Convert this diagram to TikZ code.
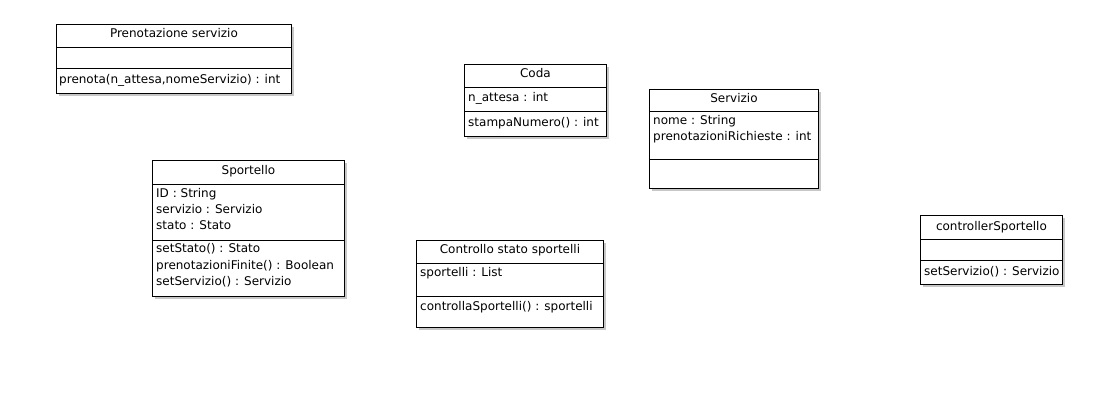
\documentclass[tikz,border=0pt]{standalone}
\usepackage{fontspec}
\setmainfont{DejaVu Sans}
\usetikzlibrary{shadows}

\newcommand\umlfont{\fontsize{12}{16}\selectfont}

\tikzset{
  classbox/.style={draw, line width=0.9pt, fill=white, anchor=north west,
    inner sep=0pt, drop shadow={shadow xshift=2.5pt, shadow yshift=-2.5pt,
    fill=black!22, opacity=1}},
  sep/.style={line width=0.9pt},
  title/.style={anchor=base, inner sep=0pt, font=\umlfont},
  member/.style={anchor=base west, inner sep=0pt, font=\umlfont}
}

\begin{document}
\begin{tikzpicture}[x=1pt, y=-1pt]
  \useasboundingbox (0,0) rectangle (1118,416);

  % Prenotazione servizio
  \node[classbox, minimum width=235pt, minimum height=69pt] (pren) at (56,24) {};
  \draw[sep] (pren.west |- 0,47) -- (pren.east |- 0,47);
  \draw[sep] (pren.west |- 0,68) -- (pren.east |- 0,68);
  \node[title] (prenT) at (pren.north |- 0,37) {Prenotazione servizio};
  \node[member] (prenM) at (59,83) {prenota(n\_attesa,nomeServizio) : int};

  % Coda
  \node[classbox, minimum width=142pt, minimum height=72pt] (coda) at (464,64) {};
  \draw[sep] (coda.west |- 0,87) -- (coda.east |- 0,87);
  \draw[sep] (coda.west |- 0,111) -- (coda.east |- 0,111);
  \node[title] (codaT) at (coda.north |- 0,77) {Coda};
  \node[member] (codaA) at (468,101) {n\_attesa : int};
  \node[member] (codaM) at (468,126) {stampaNumero() : int};

  % Servizio
  \node[classbox, minimum width=169pt, minimum height=99pt] (serv) at (649,89) {};
  \draw[sep] (serv.west |- 0,111) -- (serv.east |- 0,111);
  \draw[sep] (serv.west |- 0,159) -- (serv.east |- 0,159);
  \node[title] (servT) at (serv.north |- 0,102) {Servizio};
  \foreach \t [count=\i] in {nome : String, prenotazioniRichieste : int}
    \node[member] (servA\i) at (653,108+16*\i) {\t};

  % Sportello
  \node[classbox, minimum width=192pt, minimum height=136pt] (sport) at (152,160) {};
  \draw[sep] (sport.west |- 0,184) -- (sport.east |- 0,184);
  \draw[sep] (sport.west |- 0,240) -- (sport.east |- 0,240);
  \node[title] (sportT) at (sport.north |- 0,174) {Sportello};
  \foreach \t [count=\i] in {ID : String, servizio : Servizio, stato : Stato}
    \node[member] (sportA\i) at (156,181+16*\i) {\t};
  \foreach \t [count=\i] in {setStato() : Stato, prenotazioniFinite() : Boolean,
      setServizio() : Servizio}
    \node[member] (sportM\i) at (156,236+16.5*\i) {\t};

  % Controllo stato sportelli
  \node[classbox, minimum width=187pt, minimum height=87pt] (ctrl) at (416,240) {};
  \draw[sep] (ctrl.west |- 0,263) -- (ctrl.east |- 0,263);
  \draw[sep] (ctrl.west |- 0,296) -- (ctrl.east |- 0,296);
  \node[title] (ctrlT) at (ctrl.north |- 0,253) {Controllo stato sportelli};
  \node[member] (ctrlA) at (420,276) {sportelli : List};
  \node[member] (ctrlM) at (420,310) {controllaSportelli() : sportelli};

  % controllerSportello
  \node[classbox, minimum width=142pt, minimum height=69pt] (cs) at (920,215) {};
  \draw[sep] (cs.west |- 0,239) -- (cs.east |- 0,239);
  \draw[sep] (cs.west |- 0,260) -- (cs.east |- 0,260);
  \node[title] (csT) at (cs.north |- 0,230) {controllerSportello};
  \node[member] (csM) at (924,275) {setServizio() : Servizio};

\end{tikzpicture}
\end{document}
